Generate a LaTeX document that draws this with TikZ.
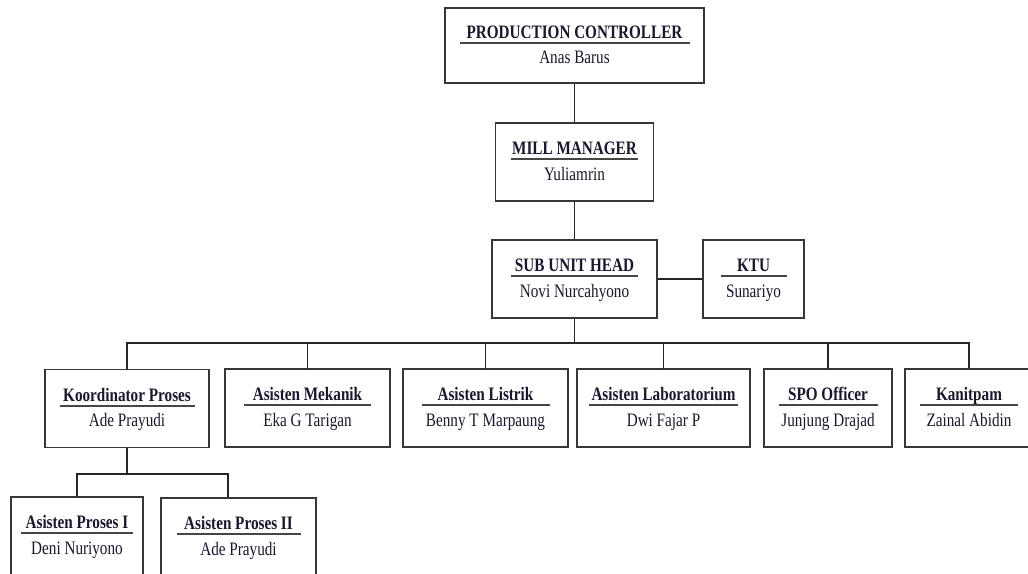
\documentclass[tikz,border=0pt]{standalone}
\usepackage{fontspec}
\setmainfont{Liberation Serif}[FakeStretch=0.80]
\usetikzlibrary{calc}

\definecolor{ink}{RGB}{25,25,45}
\definecolor{frame}{RGB}{55,55,55}
\definecolor{rulegray}{RGB}{70,70,70}

\tikzset{
  unitbox/.style={draw=frame, line width=1.4pt, fill=white, inner sep=0pt},
  titletext/.style={font=\fontsize{19}{21}\selectfont\bfseries, text=ink, anchor=base, inner sep=0pt},
  nametext/.style={font=\fontsize{19}{21}\selectfont, text=ink, anchor=base, inner sep=0pt},
  uline/.style={draw=rulegray, line width=2pt},
  link/.style={draw=black!85, line width=1.9pt, line join=miter},
}

% id, x, y, width, height, title, person, underline width
\newcommand{\orgunit}[8]{%
  \node[unitbox, minimum width=#4pt, minimum height=#5pt] (#1) at (#2,#3) {};
  \node[titletext] (#1-title) at ($(#1.center)+(0,-7.5)$) {#6};
  \node[nametext] (#1-name) at ($(#1.center)+(0,18)$) {#7};
  \draw[uline] ($(#1.center)+(-#8/2,-3)$) -- ($(#1.center)+(#8/2,-3)$);
}

\begin{document}
\begin{tikzpicture}[x=1pt, y=-1pt]
  \clip (0,0) rectangle (1028,573);
  \fill[white] (0,0) rectangle (1028,573);

  % top of the chart
  \orgunit{pc}{574.5}{45.5}{259}{75}{PRODUCTION CONTROLLER}{Anas Barus}{230}
  \orgunit{mm}{574.5}{162}{158}{78}{MILL MANAGER}{Yuliamrin}{127}
  \orgunit{sub}{574.5}{279}{165}{78}{SUB UNIT HEAD}{Novi Nurcahyono}{127}
  \orgunit{ktu}{753.5}{279}{101}{78}{KTU}{Sunariyo}{66}

  % department row
  \orgunit{kp}{127}{408.5}{164}{78}{Koordinator Proses}{Ade Prayudi}{135}
  \orgunit{mek}{307.5}{408}{165}{78}{Asisten Mekanik}{Eka G Tarigan}{127}
  \orgunit{lis}{485.5}{408}{165}{78}{Asisten Listrik}{Benny T Marpaung}{128}
  \orgunit{lab}{663.5}{408}{173}{78}{Asisten Laboratorium}{Dwi Fajar P}{149}
  \orgunit{spo}{828}{408}{128}{78}{SPO Officer}{Junjung Drajad}{99}
  \orgunit{kan}{969}{408}{128}{78}{Kanitpam}{Zainal Abidin}{98}

  % process assistants
  \orgunit{ap1}{77}{536}{132}{78}{Asisten Proses I}{Deni Nuriyono}{112}
  \orgunit{ap2}{238.5}{537}{155}{78}{Asisten Proses II}{Ade Prayudi}{124}

  % reporting lines
  \draw[link] (pc.south) -- (mm.north);
  \draw[link] (mm.south) -- (sub.north);
  \draw[link] (sub.east) -- (ktu.west);

  \coordinate (bus) at ($(sub.south)+(0,24)$);
  \draw[link] (sub.south) -- (bus);
  \draw[link] (kp.north) -- (kp.north |- bus) -- (kan.north |- bus) -- (kan.north);
  \foreach \n in {mek,lis,lab,spo}
    \draw[link] (\n.north) -- (\n.north |- bus);

  \coordinate (kpbus) at ($(kp.south)+(0,26)$);
  \coordinate (ap2in) at ($(ap2.north)+(-10.5,0)$);
  \draw[link] (kp.south) -- (kpbus);
  \draw[link] (ap1.north) -- (ap1.north |- kpbus) -- (ap2in |- kpbus) -- (ap2in);
\end{tikzpicture}
\end{document}
